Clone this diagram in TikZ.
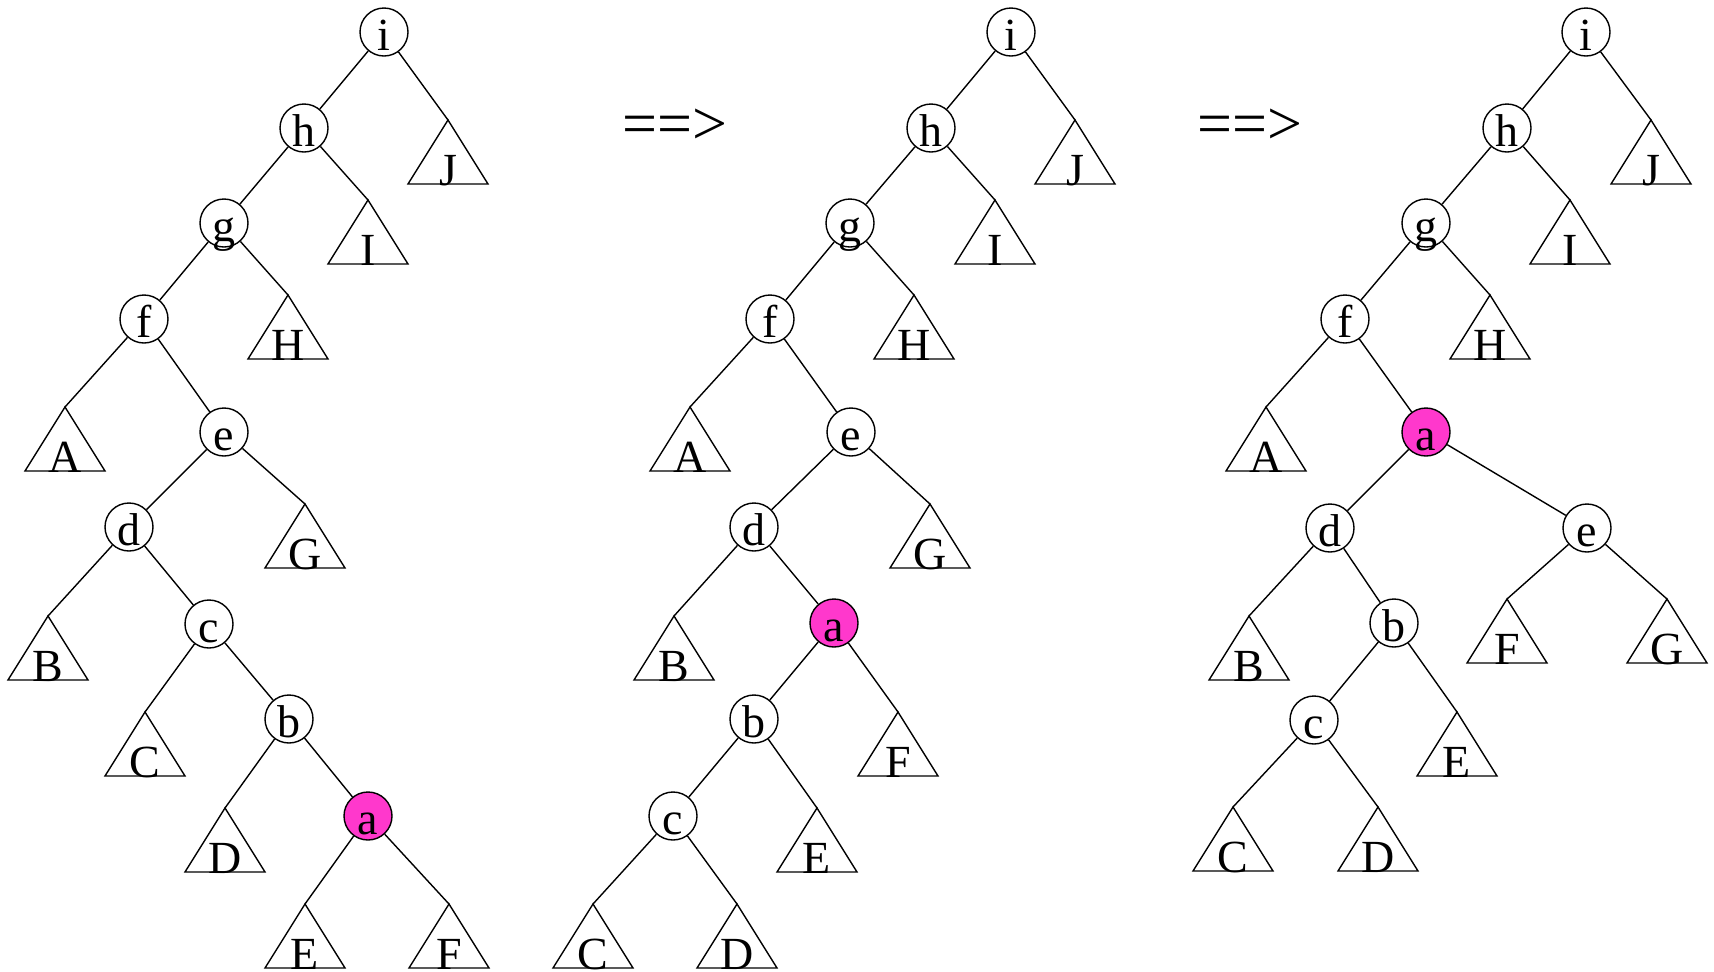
\documentclass[tikz,border=0pt]{standalone}
\usepackage{fontspec}
\setmainfont{Liberation Serif}
\usetikzlibrary{calc}
\definecolor{hot}{RGB}{255,56,204}
\tikzset{
  treenode/.style={circle, draw, line width=0.7pt, minimum size=24pt, inner sep=0pt,
    text height=18pt, text depth=0pt, font=\fontsize{23}{23}\selectfont},
  hotnode/.style={treenode, fill=hot},
  edge/.style={line width=0.7pt},
  tri/.style={line width=0.7pt, line join=miter},
  trilabel/.style={anchor=base, inner sep=0pt, font=\fontsize{23}{23}\selectfont},
  arrowtext/.style={anchor=base, inner sep=0pt, font=\fontsize{31}{31}\selectfont},
}
\newcommand\subtree[3]{%
  \coordinate (#1) at (#2);
  \draw[tri] (#1) -- ++(-40,64) -- ++(80,0) -- cycle;
  \node[trilabel] (#1t) at ($(#1)+(0,65)$) {#3};
}
\begin{document}
\begin{tikzpicture}[x=0.5pt,y=-0.5pt]
\useasboundingbox (0,0) rectangle (1714,971);

% ---------- tree 1 ----------
\node[treenode] (i1) at (384,32) {i};
\node[treenode] (h1) at (304,128) {h};
\node[treenode] (g1) at (224,223) {g};
\node[treenode] (f1) at (144,319) {f};
\node[treenode] (e1) at (224,432) {e};
\node[treenode] (d1) at (129,527) {d};
\node[treenode] (c1) at (209,624) {c};
\node[treenode] (b1) at (289,719) {b};
\node[hotnode]  (a1) at (368,816) {a};
\subtree{J1}{448,120}{J}
\subtree{I1}{368,200}{I}
\subtree{H1}{288,295}{H}
\subtree{A1}{65,407}{A}
\subtree{G1}{305,504}{G}
\subtree{B1}{48,616}{B}
\subtree{C1}{145,712}{C}
\subtree{D1}{225,808}{D}
\subtree{E1}{305,904}{E}
\subtree{F1}{449,904}{F}
\draw[edge] (i1) -- (h1);
\draw[edge] (i1) -- (J1);
\draw[edge] (h1) -- (g1);
\draw[edge] (h1) -- (I1);
\draw[edge] (g1) -- (f1);
\draw[edge] (g1) -- (H1);
\draw[edge] (f1) -- (A1);
\draw[edge] (f1) -- (e1);
\draw[edge] (e1) -- (d1);
\draw[edge] (e1) -- (G1);
\draw[edge] (d1) -- (B1);
\draw[edge] (d1) -- (c1);
\draw[edge] (c1) -- (C1);
\draw[edge] (c1) -- (b1);
\draw[edge] (b1) -- (D1);
\draw[edge] (b1) -- (a1);
\draw[edge] (a1) -- (E1);
\draw[edge] (a1) -- (F1);

% ---------- arrow 1 ----------
\node[arrowtext] (arr1) at (675,144) {==>};

% ---------- tree 2 ----------
\node[treenode] (i2) at (1011,32) {i};
\node[treenode] (h2) at (931,128) {h};
\node[treenode] (g2) at (850,223) {g};
\node[treenode] (f2) at (770,319) {f};
\node[treenode] (e2) at (851,432) {e};
\node[treenode] (d2) at (754,527) {d};
\node[hotnode]  (a2) at (834,623) {a};
\node[treenode] (b2) at (754,719) {b};
\node[treenode] (c2) at (673,816) {c};
\subtree{J2}{1075,120}{J}
\subtree{I2}{995,200}{I}
\subtree{H2}{914,295}{H}
\subtree{A2}{690,407}{A}
\subtree{G2}{930,504}{G}
\subtree{B2}{674,616}{B}
\subtree{F2}{898,712}{F}
\subtree{E2}{817,808}{E}
\subtree{C2}{593,904}{C}
\subtree{D2}{737,904}{D}
\draw[edge] (i2) -- (h2);
\draw[edge] (i2) -- (J2);
\draw[edge] (h2) -- (g2);
\draw[edge] (h2) -- (I2);
\draw[edge] (g2) -- (f2);
\draw[edge] (g2) -- (H2);
\draw[edge] (f2) -- (A2);
\draw[edge] (f2) -- (e2);
\draw[edge] (e2) -- (d2);
\draw[edge] (e2) -- (G2);
\draw[edge] (d2) -- (B2);
\draw[edge] (d2) -- (a2);
\draw[edge] (a2) -- (b2);
\draw[edge] (a2) -- (F2);
\draw[edge] (b2) -- (c2);
\draw[edge] (b2) -- (E2);
\draw[edge] (c2) -- (C2);
\draw[edge] (c2) -- (D2);

% ---------- arrow 2 ----------
\node[arrowtext] (arr2) at (1250,144) {==>};

% ---------- tree 3 ----------
\node[treenode] (i3) at (1586,32) {i};
\node[treenode] (h3) at (1507,128) {h};
\node[treenode] (g3) at (1426,223) {g};
\node[treenode] (f3) at (1345,319) {f};
\node[hotnode]  (a3) at (1426,432) {a};
\node[treenode] (d3) at (1330,528) {d};
\node[treenode] (e3) at (1587,528) {e};
\node[treenode] (b3) at (1394,623) {b};
\node[treenode] (c3) at (1314,720) {c};
\subtree{J3}{1651,120}{J}
\subtree{I3}{1570,200}{I}
\subtree{H3}{1490,295}{H}
\subtree{A3}{1266,407}{A}
\subtree{B3}{1249,616}{B}
\subtree{F3}{1507,599}{F}
\subtree{G3}{1667,599}{G}
\subtree{E3}{1457,712}{E}
\subtree{C3}{1233,807}{C}
\subtree{D3}{1378,807}{D}
\draw[edge] (i3) -- (h3);
\draw[edge] (i3) -- (J3);
\draw[edge] (h3) -- (g3);
\draw[edge] (h3) -- (I3);
\draw[edge] (g3) -- (f3);
\draw[edge] (g3) -- (H3);
\draw[edge] (f3) -- (A3);
\draw[edge] (f3) -- (a3);
\draw[edge] (a3) -- (d3);
\draw[edge] (a3) -- (e3);
\draw[edge] (d3) -- (B3);
\draw[edge] (d3) -- (b3);
\draw[edge] (e3) -- (F3);
\draw[edge] (e3) -- (G3);
\draw[edge] (b3) -- (c3);
\draw[edge] (b3) -- (E3);
\draw[edge] (c3) -- (C3);
\draw[edge] (c3) -- (D3);
\end{tikzpicture}
\end{document}
